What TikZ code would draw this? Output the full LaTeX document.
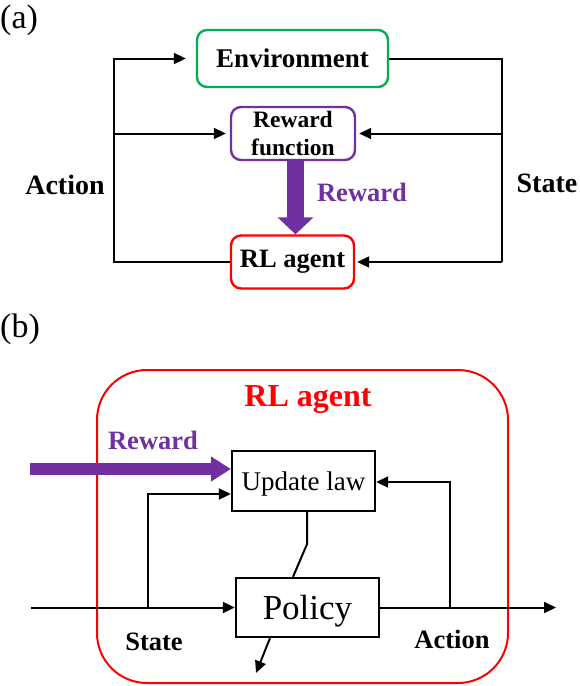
\documentclass[tikz,border=0pt]{standalone}
\usepackage{fontspec}
\setmainfont{Liberation Serif}
\usetikzlibrary{arrows.meta,calc}
\definecolor{envgreen}{RGB}{0,176,80}
\definecolor{rlpurple}{RGB}{112,48,160}
\definecolor{rlred}{RGB}{255,0,0}
\tikzset{
  conn/.style={line width=2pt},
  arr/.style={conn,-{Triangle[length=12pt,width=11pt]}},
  rbox/.style={draw,line width=2.4pt,rounded corners=10pt,inner sep=0pt,fill=white},
  sbox/.style={draw,line width=2.4pt,inner sep=0pt},
  bfbig/.style={font=\fontsize{27}{29}\selectfont\bfseries},
  bfmid/.style={font=\fontsize{26.5}{28}\selectfont\bfseries},
  panel/.style={font=\fontsize{34}{36}\selectfont,inner sep=0pt}
}
\begin{document}
\begin{tikzpicture}[x=1pt,y=-1pt]
\useasboundingbox (0,0) rectangle (580,686);
% ---------------- (a)
\node[panel,anchor=west] (pa) at (0,20) {(a)};
\node[rbox,draw=envgreen,minimum width=191pt,minimum height=57pt,bfbig] (env) at (292.5,58.5) {Environment};
\node[rbox,draw=rlpurple,minimum width=124pt,minimum height=53pt,align=center,font=\fontsize{23.5}{28}\selectfont\bfseries] (rf) at (293,133.5) {Reward\\function};
\node[rbox,draw=rlred,minimum width=123pt,minimum height=53pt,font=\fontsize{26.5}{28}\selectfont\bfseries] (ag) at (292.5,262) {RL agent};
\coordinate (Ltop) at (114,58.5);
\coordinate (Lmid) at (114,133.5);
\coordinate (Rtop) at (502,58.5);
\coordinate (Rmid) at (502,133.5);
\coordinate (Rbot) at (502,262);
\draw[arr,shorten >=10pt] (ag.west) -| (Ltop) -- (env.west);
\draw[arr,shorten >=4pt] (Lmid) -- (rf.west);
\draw[conn] (env.east) -- (Rtop) -- (Rbot);
\draw[arr,shorten >=3pt] (Rmid) -- (rf.east);
\draw[arr,shorten >=2pt] (Rbot) -- (ag.east);
\draw[draw=rlpurple,line width=17pt,-{Triangle[length=17pt,width=35pt]}] ($(rf.south)+(2.5,0)$) -- ($(ag.north)+(3,0)$);
\node[bfmid,text=rlpurple] (rwa) at (362,192) {Reward};
\node[font=\fontsize{28}{30}\selectfont\bfseries] (acta) at (65,185) {Action};
\node[font=\fontsize{28}{30}\selectfont\bfseries] (sta) at (547,183) {State};
% ---------------- (b)
\node[panel,anchor=west] (pb) at (0,329) {(b)};
\node[draw=rlred,line width=2pt,rounded corners=50pt,minimum width=411pt,minimum height=313pt,inner sep=0pt] (outer) at (302.5,526.5) {};
\node[font=\fontsize{32}{34}\selectfont\bfseries,text=rlred] (rlb) at (308,400) {RL agent};
\node[bfmid,text=rlpurple] (rwb) at (153,440) {Reward};
\node[sbox,minimum width=143pt,minimum height=60pt,text depth=0pt,font=\fontsize{27}{29}\selectfont] (ul) at (303.5,481) {Update law};
\node[sbox,minimum width=143pt,minimum height=59pt,text depth=0pt,font=\fontsize{35}{37}\selectfont] (pol) at (307.5,607.5) {Policy};
\coordinate (Pin) at (30,469);
\draw[draw=rlpurple,line width=12pt,-{Triangle[length=20pt,width=24pt]}] (Pin) -- (ul.west |- Pin);
\coordinate (Sin) at (31,607.5);
\coordinate (Sb) at (148,607.5);
\coordinate (Ab) at (450,607.5);
\coordinate (Aout) at (556,607.5);
\coordinate (dn) at (256,673);
\draw[arr] (Sin) -- (pol.west);
\draw[arr] (pol.east) -- (Aout);
\draw[arr] (Sb) |- ($(ul.west)+(0,13)$);
\draw[arr] (Ab) |- ($(ul.east)+(0,1)$);
\draw[conn] ($(ul.south)+(3.5,0)$) -- ++(0,32) -- ($(pol.north)+(-14.5,0)$);
\draw[arr] ($(pol.south)+(-37.5,0)$) -- (dn);
\node[bfmid] (stb) at (154,642) {State};
\node[bfmid] (acb) at (452,639) {Action};
\end{tikzpicture}
\end{document}
